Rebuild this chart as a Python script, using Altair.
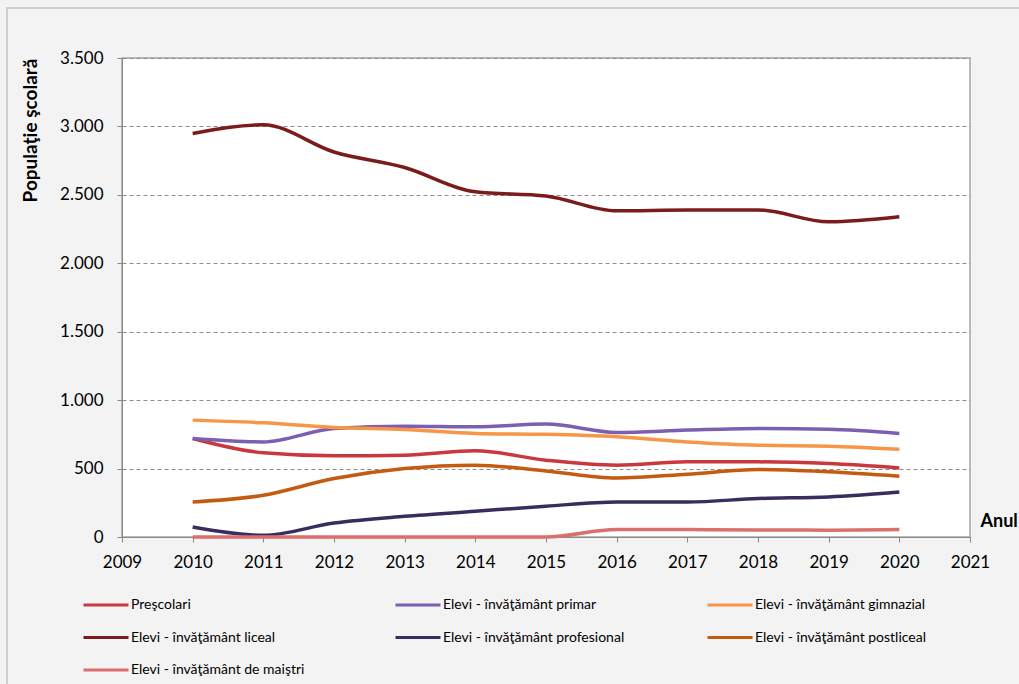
import altair as alt
import pandas as pd

years = [2010, 2011, 2012, 2013, 2014, 2015, 2016, 2017, 2018, 2019, 2020]
series_names = [
    "Preşcolari",
    "Elevi - învăţământ primar",
    "Elevi - învăţământ gimnazial",
    "Elevi - învăţământ liceal",
    "Elevi - învăţământ profesional",
    "Elevi - învăţământ postliceal",
    "Elevi - învăţământ de maiştri",
]
prescolari = [720, 615, 593, 598, 630, 561, 525, 549, 549, 537, 505]
primar = [720, 695, 793, 810, 805, 825, 764, 781, 793, 788, 757]
gimnazial = [854, 834, 801, 786, 757, 750, 732, 695, 671, 664, 642]
liceal = [2949, 3012, 2813, 2700, 2522, 2492, 2383, 2390, 2390, 2303, 2340]
profesional = [73, 12, 102, 151, 188, 225, 256, 256, 281, 293, 329]
postliceal = [256, 305, 427, 500, 525, 483, 432, 459, 493, 476, 444]
maistri = [0, 0, 0, 0, 0, 0, 54, 54, 52, 50, 54]
colors = ["#c9383d", "#7b5fb0", "#f79646", "#7b1c1c", "#3a2c5e", "#c55a11", "#d9706e"]

all_values = [prescolari, primar, gimnazial, liceal, profesional, postliceal, maistri]
rows = []
for name, vals in zip(series_names, all_values):
    for y, v in zip(years, vals):
        rows.append({"serie": name, "an": y, "valoare": v})
df = pd.DataFrame(rows)

FONT = "Lato"

lines = alt.Chart(df).mark_line(strokeWidth=3.5, interpolate="monotone").encode(
    x=alt.X(
        "an:Q",
        scale=alt.Scale(domain=[2009, 2021], nice=False, zero=False),
        axis=alt.Axis(
            values=list(range(2009, 2022)),
            format="d",
            grid=False,
            title="Anul",
            titleAngle=0,
            titleX=858,
            titleY=-16,
            titleAlign="left",
            titleBaseline="middle",
            titleFontWeight="bold",
            titleFontSize=18,
            titleFont=FONT,
            titleColor="#000000",
            labelFont=FONT,
            labelFontSize=17,
            labelColor="#000000",
            labelPadding=12,
            tickSize=5,
            tickColor="#888888",
            domainColor="#888888",
            labelFlush=False,
        ),
    ),
    y=alt.Y(
        "valoare:Q",
        scale=alt.Scale(domain=[0, 3500], nice=False),
        axis=alt.Axis(
            values=[0, 500, 1000, 1500, 2000, 2500, 3000, 3500],
            labelExpr="replace(format(datum.value, ','), ',', '.')",
            grid=True,
            gridDash=[4, 3],
            gridColor="#8c8c8c",
            gridWidth=1,
            title="Populaţie şcolară",
            titleX=-92,
            titleY=72,
            titleAngle=-90,
            titleAlign="center",
            titleBaseline="middle",
            titleFontWeight="bold",
            titleFontSize=19,
            titleFont=FONT,
            titleColor="#000000",
            labelFont=FONT,
            labelFontSize=17,
            labelColor="#000000",
            labelPadding=14,
            tickSize=5,
            tickColor="#888888",
            domainColor="#888888",
        ),
    ),
    color=alt.Color(
        "serie:N",
        scale=alt.Scale(domain=series_names, range=colors),
        legend=alt.Legend(
            orient="none",
            legendX=-40,
            legendY=523,
            direction="horizontal",
            columns=3,
            gridAlign="all",
            columnPadding=76,
            rowPadding=1.5,
            symbolType="stroke",
            symbolSize=2025,
            symbolStrokeWidth=3,
            labelFont=FONT,
            labelFontSize=14,
            labelColor="#000000",
            labelOffset=1,
            labelLimit=400,
            title=None,
        ),
    ),
)

frame = alt.Chart(pd.DataFrame({"k": [0]})).mark_rect(
    fill=None, stroke="#c4c4c4", strokeWidth=1.5
).encode(
    x=alt.value(-115), x2=alt.value(910), y=alt.value(-50), y2=alt.value(640)
)

chart = alt.layer(frame, lines).properties(
    width=848,
    height=479,
    autosize=alt.AutoSizeParams(type="none"),
    padding={"left": 122, "top": 58, "right": 49, "bottom": 147},
    background="#f3f3f3",
).configure_view(
    fill="#ffffff", stroke="#a6a6a6", strokeWidth=1.5
)

chart.save("out.html", embed_options={"renderer": "svg", "actions": False})
